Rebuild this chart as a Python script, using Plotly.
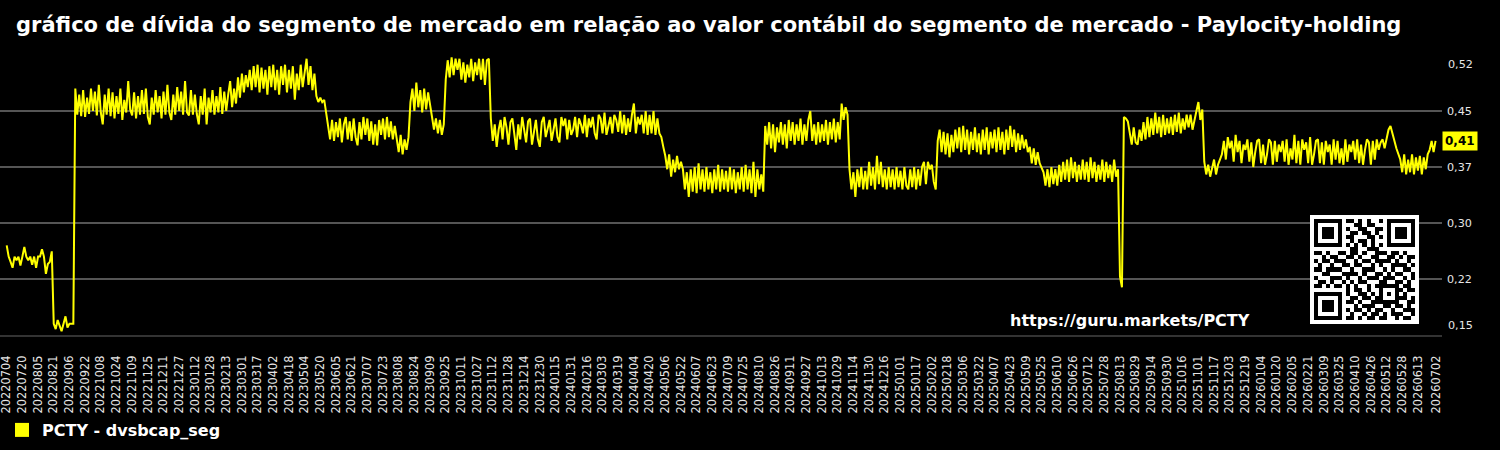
import pandas as pd
import plotly.graph_objects as go

# ---------------- data (one value every 2 days) ----------------
start_date = "2022-07-04"

dvsbcap_seg = [
    # Jul-Aug 2022
    0.270, 0.255, 0.248, 0.240, 0.255, 0.250, 0.255, 0.243, 0.255, 0.268, 0.255, 0.250,
    0.255, 0.244, 0.255, 0.240, 0.255, 0.255, 0.265, 0.255, 0.232, 0.245, 0.248, 0.262,
    # Aug-Sep 2022 low
    0.165, 0.158, 0.170, 0.162, 0.155, 0.165, 0.175, 0.160, 0.165, 0.165, 0.165,
    # Sep 2022 - Feb 2023
    0.480, 0.445, 0.472, 0.443, 0.478, 0.442, 0.468, 0.446, 0.480, 0.450,
    0.476, 0.444, 0.485, 0.448, 0.432, 0.472, 0.445, 0.480, 0.443, 0.475,
    0.440, 0.470, 0.446, 0.480, 0.438, 0.465, 0.448, 0.490, 0.452, 0.444,
    0.475, 0.440, 0.470, 0.445, 0.478, 0.446, 0.480, 0.442, 0.432, 0.468,
    0.445, 0.478, 0.448, 0.470, 0.440, 0.476, 0.445, 0.485, 0.448, 0.438,
    0.472, 0.445, 0.482, 0.450, 0.476, 0.445, 0.490, 0.448, 0.444, 0.478,
    0.445, 0.472, 0.446, 0.432, 0.470, 0.445, 0.480, 0.432, 0.468, 0.448,
    0.478, 0.445, 0.470, 0.448, 0.482, 0.446, 0.476, 0.450, 0.472, 0.490,
    0.455, 0.480, 0.460, 0.495, 0.468, 0.500, 0.475, 0.498, 0.482,
    # Mar-May 2023
    0.505, 0.478, 0.510, 0.482, 0.512, 0.475, 0.508, 0.480, 0.505, 0.472,
    0.510, 0.482, 0.512, 0.478, 0.505, 0.472, 0.510, 0.485, 0.512, 0.475,
    0.505, 0.480, 0.510, 0.465, 0.500, 0.478, 0.512, 0.482, 0.505, 0.520,
    0.485, 0.510, 0.478, 0.500,
    0.470, 0.462, 0.468, 0.462, 0.465, 0.445,
    # Jun-Aug 2023
    0.432, 0.412, 0.438, 0.410, 0.435, 0.415, 0.440, 0.408, 0.432, 0.442,
    0.412, 0.436, 0.410, 0.440, 0.415, 0.404, 0.435, 0.412, 0.442, 0.418,
    0.440, 0.410, 0.436, 0.405, 0.432, 0.404, 0.438, 0.418, 0.440, 0.412,
    0.442, 0.415, 0.436, 0.412, 0.430,
    0.410, 0.395, 0.418, 0.392, 0.412, 0.398, 0.415,
    0.462, 0.480, 0.450, 0.488, 0.455, 0.478, 0.448, 0.480, 0.452, 0.475, 0.455,
    0.442, 0.425, 0.440, 0.420, 0.438, 0.418, 0.432,
    # Sep-Nov 2023
    0.492, 0.518, 0.495, 0.522, 0.498, 0.520, 0.505, 0.520, 0.492, 0.515, 0.488, 0.512,
    0.495, 0.520, 0.490, 0.515, 0.498, 0.520, 0.492, 0.520, 0.485, 0.518, 0.520,
    # Nov 2023 - May 2024
    0.440, 0.410, 0.432, 0.402, 0.425, 0.438, 0.412, 0.442, 0.428, 0.405,
    0.435, 0.440, 0.415, 0.398, 0.432, 0.412, 0.442, 0.425, 0.408, 0.436,
    0.440, 0.405, 0.420, 0.438, 0.412, 0.402, 0.435, 0.442, 0.415, 0.428,
    0.438, 0.410, 0.425, 0.440, 0.415, 0.408, 0.442, 0.430, 0.440, 0.412,
    0.438, 0.418, 0.425, 0.442, 0.415, 0.440, 0.432, 0.420, 0.445, 0.415,
    0.440, 0.428, 0.442, 0.420, 0.412, 0.445, 0.440, 0.420, 0.448, 0.418,
    0.430, 0.442, 0.420, 0.445, 0.438, 0.422, 0.450, 0.420, 0.445, 0.418,
    0.440, 0.422, 0.445, 0.460, 0.420, 0.442, 0.432, 0.445, 0.420, 0.450,
    0.418, 0.445, 0.420, 0.450, 0.418, 0.440, 0.420,
    # May-Aug 2024
    0.415, 0.402, 0.390, 0.372, 0.392, 0.362, 0.385, 0.368, 0.390, 0.372, 0.382,
    0.372, 0.345, 0.368, 0.335, 0.372, 0.342, 0.375, 0.340, 0.380, 0.345,
    0.372, 0.342, 0.375, 0.345, 0.368, 0.340, 0.372, 0.345, 0.378, 0.342,
    0.372, 0.345, 0.370, 0.342, 0.375, 0.345, 0.372, 0.340, 0.368, 0.345,
    0.375, 0.342, 0.378, 0.345, 0.372, 0.340, 0.382, 0.335, 0.372, 0.345,
    0.365, 0.342,
    # Aug-Nov 2024
    0.430, 0.405, 0.435, 0.400, 0.432, 0.395, 0.428, 0.408, 0.435, 0.405,
    0.432, 0.400, 0.438, 0.410, 0.435, 0.405, 0.432, 0.410, 0.440, 0.405,
    0.432, 0.410, 0.438, 0.450, 0.410, 0.432, 0.405, 0.435, 0.408, 0.432,
    0.410, 0.438, 0.405, 0.435, 0.412, 0.440, 0.408, 0.435, 0.412, 0.460,
    0.438, 0.455, 0.445,
    # Nov 2024 - Feb 2025
    0.372, 0.345, 0.368, 0.335, 0.372, 0.348, 0.375, 0.345, 0.370, 0.345,
    0.382, 0.350, 0.375, 0.345, 0.390, 0.352, 0.382, 0.348, 0.372, 0.345,
    0.375, 0.348, 0.372, 0.345, 0.375, 0.348, 0.370, 0.345, 0.375, 0.350,
    0.345, 0.372, 0.348, 0.375, 0.345, 0.372, 0.350, 0.375, 0.382, 0.352,
    0.382, 0.372, 0.378, 0.355, 0.345,
    # Feb-May 2025
    0.410, 0.425, 0.395, 0.422, 0.392, 0.420, 0.388, 0.418, 0.395, 0.425,
    0.400, 0.428, 0.395, 0.430, 0.398, 0.425, 0.392, 0.422, 0.398, 0.428,
    0.395, 0.420, 0.392, 0.425, 0.398, 0.428, 0.392, 0.422, 0.400, 0.425,
    0.395, 0.428, 0.398, 0.422, 0.392, 0.425, 0.398, 0.430, 0.402, 0.425,
    0.395, 0.420, 0.398, 0.418, 0.400, 0.412,
    0.395, 0.402, 0.380, 0.400, 0.378, 0.395, 0.380, 0.375,
    # May-Aug 2025
    0.368, 0.350, 0.372, 0.348, 0.375, 0.352, 0.372, 0.350, 0.378, 0.355,
    0.382, 0.358, 0.385, 0.355, 0.388, 0.360, 0.382, 0.355, 0.378, 0.358,
    0.385, 0.358, 0.382, 0.355, 0.388, 0.360, 0.382, 0.355, 0.378, 0.358,
    0.385, 0.355, 0.382, 0.360, 0.378, 0.355, 0.385, 0.362, 0.372,
    # Aug 2025 dip
    0.228, 0.214,
    # Aug-Nov 2025
    0.442, 0.440, 0.436,
    0.420, 0.405, 0.428, 0.408, 0.405, 0.425, 0.410, 0.435, 0.412, 0.442,
    0.415, 0.440, 0.418, 0.448, 0.420, 0.442, 0.415, 0.445, 0.418, 0.440,
    0.420, 0.442, 0.418, 0.445, 0.422, 0.448, 0.420, 0.440, 0.425, 0.445,
    0.428, 0.445, 0.425, 0.440, 0.450, 0.462, 0.438, 0.452,
    0.382, 0.365, 0.378, 0.362, 0.375, 0.385, 0.365, 0.378, 0.385,
    # Nov 2025 - Jun 2026
    0.392, 0.410, 0.385, 0.415, 0.400, 0.410, 0.382, 0.418, 0.395, 0.410,
    0.380, 0.405, 0.398, 0.412, 0.382, 0.408, 0.375, 0.395, 0.410, 0.412,
    0.380, 0.405, 0.378, 0.392, 0.412, 0.408, 0.378, 0.410, 0.382, 0.405,
    0.395, 0.410, 0.382, 0.412, 0.378, 0.400, 0.385, 0.418, 0.380, 0.410,
    0.378, 0.412, 0.398, 0.408, 0.380, 0.415, 0.378, 0.392, 0.410, 0.412,
    0.380, 0.408, 0.378, 0.410, 0.395, 0.405, 0.378, 0.412, 0.385, 0.410,
    0.380, 0.400, 0.378, 0.412, 0.382, 0.405, 0.395, 0.410, 0.385, 0.412,
    0.380, 0.405, 0.378, 0.398, 0.412, 0.408, 0.378, 0.410, 0.385, 0.412,
    0.398, 0.408, 0.412, 0.400, 0.415,
    0.425, 0.430, 0.418, 0.410, 0.400, 0.392,
    0.385, 0.368, 0.392, 0.365, 0.385, 0.368, 0.392, 0.365, 0.388, 0.370,
    0.390, 0.365, 0.388, 0.372, 0.392,
    0.398, 0.410, 0.395, 0.410,
]

tick_labels = [
    "20220704", "20220720", "20220805", "20220821", "20220906", "20220922", "20221008",
    "20221024", "20221109", "20221125", "20221211", "20221227",
    "20230112", "20230128", "20230213", "20230301", "20230317", "20230402", "20230418",
    "20230504", "20230520", "20230605", "20230621", "20230707", "20230723", "20230808",
    "20230824", "20230909", "20230925", "20231011", "20231027", "20231112", "20231128",
    "20231214", "20231230",
    "20240115", "20240131", "20240216", "20240303", "20240319", "20240404", "20240420",
    "20240506", "20240522", "20240607", "20240623", "20240709", "20240725", "20240810",
    "20240826", "20240911", "20240927", "20241013", "20241029", "20241114", "20241130",
    "20241216",
    "20250101", "20250117", "20250202", "20250218", "20250306", "20250322", "20250407",
    "20250423", "20250509", "20250525", "20250610", "20250626", "20250712", "20250728",
    "20250813", "20250829", "20250914", "20250930", "20251016", "20251101", "20251117",
    "20251203", "20251219",
    "20260104", "20260120", "20260205", "20260221", "20260309", "20260325", "20260410",
    "20260426", "20260512", "20260528", "20260613", "20260702",
]

y_tick_vals = [0.15, 0.225, 0.30, 0.375, 0.45, 0.525]
y_tick_text = ["0,15", "0,22", "0,30", "0,37", "0,45", "0,52"]

series_name = "PCTY - dvsbcap_seg"
title_text = ("gráfico de dívida do segmento de mercado em relação ao valor contábil "
              "do segmento de mercado - Paylocity-holding")
url_text = "https://guru.markets/PCTY"

qr_rows = [
    "1111111011010100101111111",
    "1000001000110110001000001",
    "1011101010011001101011101",
    "1011101001101101001011101",
    "1011101011000110101011101",
    "1000001001011010001000001",
    "1111111010101010101111111",
    "0000000001100111000000000",
    "1101001101101001110110100",
    "0010110011010011001101011",
    "1011011100101101111010010",
    "0100100110110010100111101",
    "1101111001001110010100110",
    "0011000111101001101011001",
    "1000111010010111011100101",
    "0110100101011000110011010",
    "1101011010100101111110110",
    "0000000010110100100011011",
    "1111111010011010101010100",
    "1000001001101101100011101",
    "1011101011010011111110011",
    "1011101000101110011011010",
    "1011101010110101100100111",
    "1000001001001011010111001",
    "1111111011010110110010110",
]

# ---------------- figure ----------------
dates = pd.date_range(start_date, periods=len(dvsbcap_seg), freq="2D")
tick_dates = pd.to_datetime(tick_labels, format="%Y%m%d")

W, H = 1500, 450
M_L, M_R, M_T, M_B = 0, 58, 55, 115
PW, PH = W - M_L - M_R, H - M_T - M_B

def px_x(x):
    return (x - M_L) / PW

def px_y(y):
    return (H - M_B - y) / PH

TXT = "#e6e6e6"
YEL = "#ffff00"

fig = go.Figure()
fig.add_trace(go.Scatter(
    x=dates, y=dvsbcap_seg, mode="lines",
    line=dict(color=YEL, width=2), showlegend=False, hoverinfo="skip",
))
# legend entry (square swatch)
fig.add_trace(go.Scatter(
    x=[None], y=[None], mode="markers", name="<b>%s</b>" % series_name,
    marker=dict(symbol="square", size=14, color=YEL), showlegend=True,
))

# QR code block (with quiet zone)
qr_z = [[0] * (len(qr_rows[0]) + 2)]
for row in qr_rows:
    qr_z.append([0] + [int(c) for c in row] + [0])
qr_z.append([0] * (len(qr_rows[0]) + 2))
fig.add_trace(go.Heatmap(
    z=qr_z, xaxis="x2", yaxis="y2", colorscale=[[0, "white"], [1, "black"]],
    zmin=0, zmax=1, showscale=False, hoverinfo="skip",
))

last_val = dvsbcap_seg[-1]
annotations = [
    dict(text="<b>%s</b>" % url_text, xref="paper", yref="paper",
         x=px_x(1129.5), y=px_y(320), xanchor="center", yanchor="middle",
         showarrow=False, font=dict(family="DejaVu Sans", size=16, color="white")),
    dict(text="<b>%s</b>" % ("%.2f" % last_val).replace(".", ","),
         xref="paper", yref="y", x=1, y=last_val, xanchor="left", yanchor="middle",
         showarrow=False, bgcolor=YEL, borderpad=2,
         font=dict(family="DejaVu Sans", size=12, color="black")),
    dict(text=y_tick_text[-1], xref="paper", yref="y", x=1, y=y_tick_vals[-1],
         xanchor="left", yanchor="middle", xshift=4, yshift=-9.5, showarrow=False,
         font=dict(family="DejaVu Sans", size=11.2, color=TXT)),
    dict(text=y_tick_text[0], xref="paper", yref="y", x=1, y=y_tick_vals[0],
         xanchor="left", yanchor="middle", xshift=4, yshift=9.7, showarrow=False,
         font=dict(family="DejaVu Sans", size=11.2, color=TXT)),
]

fig.update_layout(
    width=W, height=H,
    margin=dict(l=M_L, r=M_R, t=M_T, b=M_B, pad=0),
    paper_bgcolor="black", plot_bgcolor="black",
    font=dict(family="DejaVu Sans", color=TXT),
    title=dict(text="<b>%s</b>" % title_text, x=16 / W, xanchor="left",
               y=1 - 25 / H, yanchor="middle", yref="container", xref="container",
               font=dict(family="DejaVu Sans", size=21, color="white")),
    showlegend=True,
    legend=dict(orientation="h", xref="container", yref="container",
                x=2 / W, y=(H - 430) / H, xanchor="left", yanchor="middle",
                bgcolor="rgba(0,0,0,0)",
                font=dict(family="DejaVu Sans", size=16, color="white")),
    xaxis=dict(
        type="date", range=["2022-06-27 04:00", "2026-07-07 14:00"],
        tickmode="array", tickvals=tick_dates, ticktext=tick_labels, tickangle=-90,
        tickfont=dict(family="DejaVu Sans", size=11.4, color=TXT),
        showgrid=False, zeroline=False, showline=True, linecolor="#333333", linewidth=2,
        ticks="", ticklabelstandoff=14, ticklabeloverflow="allow", fixedrange=True,
    ),
    yaxis=dict(
        side="right", range=[0.15, 0.525], tickmode="array", tickvals=y_tick_vals,
        ticktext=["", *y_tick_text[1:-1], ""],
        tickfont=dict(family="DejaVu Sans", size=11.2, color=TXT),
        showgrid=True, gridcolor="#555555", gridwidth=2, zeroline=False,
        showline=False, ticks="", ticklabelstandoff=4, fixedrange=True,
    ),
    xaxis2=dict(domain=[px_x(1310), px_x(1419)], anchor="y2", visible=False,
                range=[-0.5, len(qr_z) - 0.5], fixedrange=True),
    yaxis2=dict(domain=[px_y(324.3), px_y(215)], anchor="x2", visible=False,
                range=[len(qr_z) - 0.5, -0.5], fixedrange=True),
    annotations=annotations,
)

fig.write_html("out.html", config={"displayModeBar": False})
